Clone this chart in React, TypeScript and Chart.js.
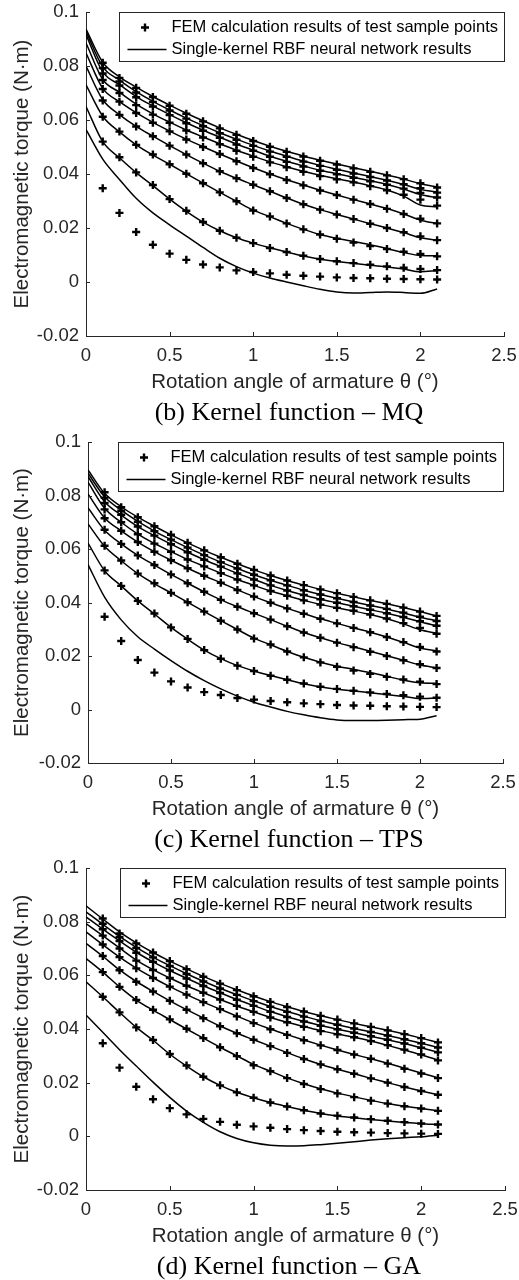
import React, { useEffect, useRef } from 'react';
import { Chart, registerables } from 'chart.js';

Chart.register(...registerables);

// ---------- data ----------
const angleFem = [0.1, 0.2, 0.3, 0.4, 0.5, 0.6, 0.7, 0.8, 0.9, 1.0, 1.1, 1.2, 1.3, 1.4, 1.5, 1.6, 1.7, 1.8, 1.9, 2.0, 2.1];
const angleNet = [0, 0.1, 0.2, 0.3, 0.4, 0.5, 0.6, 0.7, 0.8, 0.9, 1.0, 1.1, 1.2, 1.3, 1.4, 1.5, 1.6, 1.7, 1.8, 1.9, 2.0, 2.1];

const xTicks = [0, 0.5, 1, 1.5, 2, 2.5];
const yTicks = [-0.02, 0, 0.02, 0.04, 0.06, 0.08, 0.1];

// FEM test sample points
const fem1 = [0.0347, 0.0256, 0.0185, 0.0138, 0.0105, 0.0082, 0.0065, 0.0054, 0.0043, 0.0037, 0.0032, 0.0027, 0.0023, 0.0020, 0.0017, 0.0015, 0.0014, 0.0012, 0.0011, 0.0010, 0.0009];
const fem2 = [0.0520, 0.0462, 0.0406, 0.0359, 0.0307, 0.0264, 0.0222, 0.0190, 0.0164, 0.0144, 0.0126, 0.0111, 0.0097, 0.0085, 0.0077, 0.0070, 0.0064, 0.0058, 0.0053, 0.0048, 0.0044];
const fem3 = [0.0612, 0.0557, 0.0508, 0.0472, 0.0436, 0.0401, 0.0366, 0.0332, 0.0299, 0.0265, 0.0243, 0.0217, 0.0195, 0.0176, 0.0160, 0.0146, 0.0133, 0.0122, 0.0112, 0.0104, 0.0095];
const fem4 = [0.0672, 0.0619, 0.0576, 0.0540, 0.0505, 0.0472, 0.0440, 0.0410, 0.0384, 0.0360, 0.0336, 0.0311, 0.0288, 0.0268, 0.0250, 0.0233, 0.0216, 0.0200, 0.0184, 0.0169, 0.0155];
const fem5 = [0.0715, 0.0668, 0.0626, 0.0590, 0.0558, 0.0528, 0.0500, 0.0474, 0.0447, 0.0422, 0.0399, 0.0378, 0.0358, 0.0339, 0.0322, 0.0305, 0.0289, 0.0271, 0.0252, 0.0234, 0.0217];
const fem6 = [0.0748, 0.0700, 0.0655, 0.0620, 0.0590, 0.0561, 0.0535, 0.0510, 0.0486, 0.0464, 0.0443, 0.0425, 0.0408, 0.0392, 0.0380, 0.0369, 0.0355, 0.0340, 0.0323, 0.0305, 0.0283];
const fem7 = [0.0772, 0.0728, 0.0684, 0.0650, 0.0618, 0.0588, 0.0560, 0.0534, 0.0509, 0.0486, 0.0464, 0.0445, 0.0428, 0.0412, 0.0399, 0.0386, 0.0373, 0.0360, 0.0346, 0.0330, 0.0313];
const fem8 = [0.0792, 0.0743, 0.0702, 0.0667, 0.0635, 0.0605, 0.0577, 0.0551, 0.0527, 0.0504, 0.0483, 0.0464, 0.0446, 0.0430, 0.0416, 0.0402, 0.0389, 0.0376, 0.0362, 0.0347, 0.0331];
const fem9 = [0.0812, 0.0756, 0.0719, 0.0685, 0.0653, 0.0623, 0.0595, 0.0569, 0.0545, 0.0522, 0.0501, 0.0482, 0.0465, 0.0449, 0.0435, 0.0421, 0.0408, 0.0395, 0.0381, 0.0366, 0.0350];

// (b) MQ kernel network outputs
const mq1 = [0.0565, 0.0455, 0.0380, 0.0310, 0.0256, 0.0212, 0.0170, 0.0128, 0.0088, 0.0057, 0.0033, 0.0015, 0.0000, -0.0014, -0.0027, -0.0037, -0.0041, -0.0039, -0.0037, -0.0039, -0.0042, -0.0026];
const mq2 = [0.0650, 0.0520, 0.0460, 0.0405, 0.0357, 0.0307, 0.0262, 0.0222, 0.0190, 0.0164, 0.0144, 0.0127, 0.0111, 0.0096, 0.0084, 0.0076, 0.0069, 0.0062, 0.0056, 0.0048, 0.0038, 0.0042];
const mq3 = [0.0730, 0.0614, 0.0556, 0.0508, 0.0470, 0.0436, 0.0401, 0.0366, 0.0332, 0.0299, 0.0266, 0.0242, 0.0217, 0.0195, 0.0176, 0.0162, 0.0150, 0.0138, 0.0124, 0.0109, 0.0098, 0.0097];
const mq4 = [0.0800, 0.0675, 0.0620, 0.0576, 0.0540, 0.0505, 0.0472, 0.0440, 0.0410, 0.0384, 0.0360, 0.0336, 0.0311, 0.0288, 0.0268, 0.0250, 0.0233, 0.0216, 0.0200, 0.0183, 0.0164, 0.0155];
const mq5 = [0.0848, 0.0717, 0.0668, 0.0627, 0.0591, 0.0559, 0.0529, 0.0501, 0.0474, 0.0448, 0.0423, 0.0400, 0.0379, 0.0359, 0.0340, 0.0322, 0.0305, 0.0289, 0.0272, 0.0252, 0.0229, 0.0217];
const mq6 = [0.0885, 0.0750, 0.0703, 0.0659, 0.0623, 0.0592, 0.0563, 0.0537, 0.0512, 0.0488, 0.0466, 0.0445, 0.0427, 0.0410, 0.0395, 0.0382, 0.0370, 0.0356, 0.0341, 0.0318, 0.0285, 0.0278];
const mq7 = [0.0916, 0.0778, 0.0731, 0.0687, 0.0652, 0.0620, 0.0590, 0.0562, 0.0536, 0.0511, 0.0488, 0.0466, 0.0447, 0.0430, 0.0414, 0.0401, 0.0388, 0.0375, 0.0361, 0.0344, 0.0324, 0.0312];
const mq8 = [0.0928, 0.0797, 0.0748, 0.0705, 0.0669, 0.0637, 0.0607, 0.0579, 0.0553, 0.0529, 0.0506, 0.0485, 0.0466, 0.0448, 0.0432, 0.0418, 0.0404, 0.0391, 0.0377, 0.0361, 0.0343, 0.0333];
const mq9 = [0.0937, 0.0814, 0.0760, 0.0722, 0.0687, 0.0655, 0.0625, 0.0597, 0.0571, 0.0547, 0.0524, 0.0503, 0.0484, 0.0467, 0.0451, 0.0437, 0.0423, 0.0410, 0.0396, 0.0381, 0.0364, 0.0352];

// (c) TPS kernel network outputs
const tps1 = [0.0542, 0.0420, 0.0335, 0.0272, 0.0226, 0.0183, 0.0143, 0.0108, 0.0077, 0.0050, 0.0027, 0.0009, -0.0007, -0.0020, -0.0031, -0.0039, -0.0041, -0.0041, -0.0040, -0.0038, -0.0036, -0.0023];
const tps2 = [0.0622, 0.0519, 0.0462, 0.0406, 0.0357, 0.0307, 0.0263, 0.0222, 0.0190, 0.0164, 0.0144, 0.0127, 0.0111, 0.0096, 0.0084, 0.0076, 0.0069, 0.0063, 0.0056, 0.0049, 0.0041, 0.0043];
const tps3 = [0.0694, 0.0610, 0.0556, 0.0508, 0.0470, 0.0436, 0.0401, 0.0366, 0.0332, 0.0299, 0.0267, 0.0242, 0.0217, 0.0195, 0.0177, 0.0162, 0.0150, 0.0138, 0.0124, 0.0110, 0.0100, 0.0098];
const tps4 = [0.0754, 0.0670, 0.0619, 0.0576, 0.0540, 0.0505, 0.0472, 0.0440, 0.0410, 0.0384, 0.0360, 0.0336, 0.0311, 0.0288, 0.0268, 0.0250, 0.0234, 0.0218, 0.0201, 0.0184, 0.0166, 0.0156];
const tps5 = [0.0806, 0.0716, 0.0668, 0.0626, 0.0590, 0.0558, 0.0528, 0.0500, 0.0474, 0.0447, 0.0422, 0.0399, 0.0378, 0.0358, 0.0339, 0.0322, 0.0305, 0.0289, 0.0271, 0.0251, 0.0230, 0.0219];
const tps6 = [0.0850, 0.0752, 0.0700, 0.0656, 0.0621, 0.0590, 0.0561, 0.0535, 0.0510, 0.0486, 0.0464, 0.0443, 0.0425, 0.0408, 0.0393, 0.0380, 0.0368, 0.0355, 0.0339, 0.0320, 0.0298, 0.0285];
const tps7 = [0.0871, 0.0777, 0.0727, 0.0684, 0.0650, 0.0618, 0.0588, 0.0560, 0.0534, 0.0509, 0.0486, 0.0464, 0.0445, 0.0428, 0.0412, 0.0399, 0.0386, 0.0373, 0.0360, 0.0345, 0.0328, 0.0313];
const tps8 = [0.0883, 0.0795, 0.0745, 0.0703, 0.0667, 0.0635, 0.0605, 0.0577, 0.0551, 0.0527, 0.0504, 0.0483, 0.0464, 0.0446, 0.0430, 0.0416, 0.0402, 0.0389, 0.0376, 0.0361, 0.0345, 0.0332];
const tps9 = [0.0896, 0.0808, 0.0758, 0.0719, 0.0685, 0.0653, 0.0623, 0.0595, 0.0569, 0.0545, 0.0522, 0.0501, 0.0482, 0.0465, 0.0449, 0.0435, 0.0421, 0.0408, 0.0395, 0.0381, 0.0366, 0.0350];

// (d) GA kernel network outputs
const ga1 = [0.0452, 0.0388, 0.0323, 0.0262, 0.0202, 0.0145, 0.0094, 0.0052, 0.0017, -0.0008, -0.0024, -0.0033, -0.0036, -0.0035, -0.0031, -0.0026, -0.0020, -0.0014, -0.0009, -0.0005, -0.0002, 0.0004];
const ga2 = [0.0576, 0.0520, 0.0462, 0.0406, 0.0358, 0.0306, 0.0262, 0.0222, 0.0190, 0.0164, 0.0144, 0.0126, 0.0111, 0.0097, 0.0085, 0.0076, 0.0069, 0.0063, 0.0057, 0.0052, 0.0047, 0.0044];
const ga3 = [0.0663, 0.0612, 0.0557, 0.0508, 0.0470, 0.0435, 0.0400, 0.0366, 0.0332, 0.0300, 0.0268, 0.0243, 0.0218, 0.0196, 0.0177, 0.0161, 0.0147, 0.0134, 0.0122, 0.0112, 0.0104, 0.0095];
const ga4 = [0.0719, 0.0671, 0.0620, 0.0577, 0.0540, 0.0505, 0.0472, 0.0441, 0.0411, 0.0384, 0.0360, 0.0336, 0.0312, 0.0289, 0.0268, 0.0250, 0.0233, 0.0216, 0.0200, 0.0184, 0.0169, 0.0155];
const ga5 = [0.0762, 0.0714, 0.0668, 0.0627, 0.0591, 0.0558, 0.0528, 0.0500, 0.0474, 0.0448, 0.0423, 0.0400, 0.0379, 0.0359, 0.0340, 0.0322, 0.0305, 0.0289, 0.0272, 0.0254, 0.0236, 0.0218];
const ga6 = [0.0793, 0.0748, 0.0702, 0.0657, 0.0621, 0.0590, 0.0561, 0.0535, 0.0510, 0.0486, 0.0464, 0.0443, 0.0425, 0.0409, 0.0394, 0.0381, 0.0369, 0.0355, 0.0339, 0.0322, 0.0304, 0.0284];
const ga7 = [0.0818, 0.0772, 0.0728, 0.0686, 0.0650, 0.0618, 0.0589, 0.0561, 0.0535, 0.0510, 0.0487, 0.0465, 0.0446, 0.0429, 0.0413, 0.0399, 0.0386, 0.0373, 0.0360, 0.0346, 0.0330, 0.0313];
const ga8 = [0.0837, 0.0790, 0.0745, 0.0704, 0.0668, 0.0636, 0.0606, 0.0578, 0.0552, 0.0528, 0.0505, 0.0484, 0.0465, 0.0447, 0.0431, 0.0416, 0.0402, 0.0389, 0.0376, 0.0362, 0.0347, 0.0331];
const ga9 = [0.0859, 0.0810, 0.0762, 0.0721, 0.0685, 0.0653, 0.0624, 0.0596, 0.0570, 0.0546, 0.0523, 0.0502, 0.0483, 0.0465, 0.0449, 0.0435, 0.0421, 0.0408, 0.0395, 0.0381, 0.0366, 0.0350];

const femSeries = [fem1, fem2, fem3, fem4, fem5, fem6, fem7, fem8, fem9];
const mqSeries = [mq1, mq2, mq3, mq4, mq5, mq6, mq7, mq8, mq9];
const tpsSeries = [tps1, tps2, tps3, tps4, tps5, tps6, tps7, tps8, tps9];
const gaSeries = [ga1, ga2, ga3, ga4, ga5, ga6, ga7, ga8, ga9];

const legendFem = 'FEM calculation results of test sample points';
const legendNet = 'Single-kernel RBF neural network results';
const xTitle = 'Rotation angle of armature θ (°)';
const yTitle = 'Electromagnetic torque (N·m)';
const captions = ['(b) Kernel function – MQ', '(c) Kernel function – TPS', '(d) Kernel function – GA'];

// ---------- styling / layout ----------
const SANS = '"Liberation Sans", Arial, Helvetica, sans-serif';
const SERIF = '"Liberation Serif", "Times New Roman", serif';
const AXIS = '#262626';
const X_AXIS_H = 62;
const CROSS_R = 4;
const CROSS_W = 2.4;

const panels = [
  { net: mqSeries, caption: captions[0], plotTop: 12, plotBottom: 336, plotLeft: 86, plotRight: 504 },
  { net: tpsSeries, caption: captions[1], plotTop: 442, plotBottom: 763, plotLeft: 88, plotRight: 503 },
  { net: gaSeries, caption: captions[2], plotTop: 868, plotBottom: 1190, plotLeft: 86, plotRight: 505 },
];

const fmt = (v: number) => String(parseFloat(Number(v).toFixed(4)));

const inwardTicks = {
  id: 'inwardTicks',
  afterDraw(chart: any) {
    const { ctx, chartArea } = chart;
    const xs = chart.scales.x;
    const ys = chart.scales.y;
    ctx.save();
    ctx.strokeStyle = AXIS;
    ctx.lineWidth = 1;
    ctx.beginPath();
    xTicks.forEach((t) => {
      const px = Math.round(xs.getPixelForValue(t)) + 0.5;
      ctx.moveTo(px, chartArea.bottom);
      ctx.lineTo(px, chartArea.bottom - 4);
    });
    yTicks.forEach((t) => {
      const py = Math.round(ys.getPixelForValue(t)) + 0.5;
      ctx.moveTo(chartArea.left, py);
      ctx.lineTo(chartArea.left + 4, py);
    });
    ctx.stroke();
    ctx.restore();
  },
};

const legendBox = {
  id: 'legendBox',
  afterDatasetsDraw(chart: any) {
    const { ctx, chartArea } = chart;
    ctx.save();
    ctx.font = `16.5px ${SANS}`;
    const w = Math.max(ctx.measureText(legendFem).width, ctx.measureText(legendNet).width);
    const boxW = Math.round(52 + w + 7);
    const boxH = 49;
    const right = Math.round(chartArea.right) + 0.5;
    const left = right - boxW;
    const top = Math.round(chartArea.top) + 0.5;
    ctx.fillStyle = '#fff';
    ctx.fillRect(left, top, boxW, boxH);
    ctx.strokeStyle = AXIS;
    ctx.lineWidth = 1;
    ctx.strokeRect(left, top, boxW, boxH);
    const r1 = top + 15;
    const r2 = top + 37;
    const cx = left + 25.5;
    ctx.strokeStyle = '#000';
    ctx.lineWidth = CROSS_W;
    ctx.beginPath();
    ctx.moveTo(cx - CROSS_R, r1);
    ctx.lineTo(cx + CROSS_R, r1);
    ctx.moveTo(cx, r1 - CROSS_R);
    ctx.lineTo(cx, r1 + CROSS_R);
    ctx.stroke();
    ctx.lineWidth = 1.5;
    ctx.beginPath();
    ctx.moveTo(left + 8, r2);
    ctx.lineTo(left + 47, r2);
    ctx.stroke();
    ctx.fillStyle = '#000';
    ctx.textBaseline = 'middle';
    ctx.textAlign = 'left';
    ctx.fillText(legendFem, left + 52, r1);
    ctx.fillText(legendNet, left + 52, r2);
    ctx.restore();
  },
};

type PanelProps = {
  net: number[][];
  caption: string;
  plotTop: number;
  plotBottom: number;
  plotLeft: number;
  plotRight: number;
};

function Panel({ net, caption, plotTop, plotBottom, plotLeft, plotRight }: PanelProps) {
  const ref = useRef<HTMLCanvasElement | null>(null);
  const canvasTop = plotTop - 12;
  const canvasH = plotBottom - canvasTop + X_AXIS_H;

  useEffect(() => {
    if (!ref.current) return;
    const datasets: any[] = [];
    femSeries.forEach((vals, i) => {
      datasets.push({
        label: `fem${i + 1}`,
        data: angleFem.map((x, j) => ({ x, y: vals[j] })),
        showLine: false,
        pointStyle: 'cross',
        pointRadius: CROSS_R,
        pointHoverRadius: CROSS_R,
        pointBorderWidth: CROSS_W,
        borderColor: '#000',
        backgroundColor: '#000',
      });
    });
    net.forEach((vals, i) => {
      datasets.push({
        label: `net${i + 1}`,
        data: angleNet.map((x, j) => ({ x, y: vals[j] })),
        showLine: true,
        borderColor: '#000',
        borderWidth: 1.5,
        pointRadius: 0,
        pointHoverRadius: 0,
        cubicInterpolationMode: 'monotone',
        fill: false,
      });
    });

    const zeroPad = (s: any) => {
      s.paddingLeft = 0;
      s.paddingRight = 0;
      s.paddingTop = 0;
      s.paddingBottom = 0;
    };

    const chart = new Chart(ref.current, {
      type: 'line',
      data: { datasets },
      options: {
        responsive: false,
        animation: false,
        events: [],
        layout: { padding: { top: 12, left: 0, right: 519 - plotRight, bottom: 0 } },
        plugins: { legend: { display: false }, tooltip: { enabled: false }, title: { display: false } },
        scales: {
          x: {
            type: 'linear',
            min: 0,
            max: 2.5,
            afterBuildTicks: (s: any) => { s.ticks = xTicks.map((v) => ({ value: v })); },
            ticks: {
              color: AXIS,
              font: { family: SANS, size: 18.5 },
              padding: 9,
              maxRotation: 0,
              autoSkip: false,
              callback: (v: any) => fmt(v),
            },
            grid: { display: false, drawTicks: false },
            border: { display: true, color: AXIS, width: 1 },
            title: {
              display: true,
              text: xTitle,
              color: AXIS,
              font: { family: SANS, size: 20.5 },
              padding: { top: 0, bottom: 3 },
            },
            afterFit: (s: any) => { s.height = X_AXIS_H; zeroPad(s); },
          },
          y: {
            type: 'linear',
            min: -0.02,
            max: 0.1,
            afterBuildTicks: (s: any) => { s.ticks = yTicks.map((v) => ({ value: v })); },
            ticks: {
              color: AXIS,
              font: { family: SANS, size: 18.5 },
              padding: 7,
              autoSkip: false,
              callback: (v: any) => fmt(v),
            },
            grid: { display: false, drawTicks: false },
            border: { display: true, color: AXIS, width: 1 },
            title: {
              display: true,
              text: yTitle,
              color: AXIS,
              font: { family: SANS, size: 20.5 },
              padding: { top: 10, bottom: 0 },
            },
            afterFit: (s: any) => { s.width = plotLeft; zeroPad(s); },
          },
        },
      } as any,
      plugins: [inwardTicks, legendBox],
    });
    return () => chart.destroy();
  }, [net, plotLeft, plotRight]);

  const captionCenter = plotBottom + 77.5;
  return (
    <>
      <div style={{ position: 'absolute', left: 0, top: canvasTop, width: 519, height: canvasH }}>
        <canvas ref={ref} width={519} height={canvasH} style={{ width: 519, height: canvasH, display: 'block' }} />
      </div>
      <div
        style={{
          position: 'absolute',
          left: 289 - 300,
          width: 600,
          top: captionCenter - 17,
          height: 30,
          lineHeight: '30px',
          textAlign: 'center',
          fontFamily: SERIF,
          fontSize: 26,
          color: '#000',
          whiteSpace: 'nowrap',
        }}
      >
        {caption}
      </div>
    </>
  );
}

export default function App() {
  return (
    <div style={{ position: 'absolute', left: 0, top: 0, width: 519, height: 1280, background: '#fff', overflow: 'hidden' }}>
      {panels.map((p, i) => (
        <Panel key={i} {...p} />
      ))}
    </div>
  );
}
